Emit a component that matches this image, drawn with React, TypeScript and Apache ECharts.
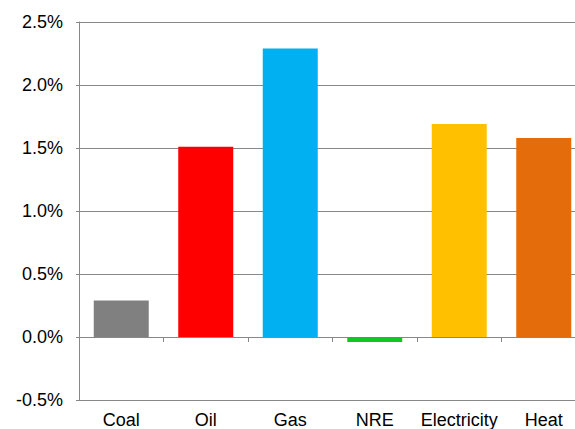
import React, { useEffect, useRef } from "react";
import * as echarts from "echarts";

const categories = ["Coal", "Oil", "Gas", "NRE", "Electricity", "Heat"];
const values = [0.29, 1.51, 2.29, -0.04, 1.69, 1.58];
const barColors = ["#808080", "#FF0000", "#00B0F0", "#12C81F", "#FFC000", "#E46C0A"];
const yTicks = { min: -0.5, max: 2.5, interval: 0.5 };

export default function App() {
  const ref = useRef<HTMLDivElement>(null);
  useEffect(() => {
    if (!ref.current) return;
    const chart = echarts.init(ref.current, null, { renderer: "svg" });
    const font = "'Liberation Sans', Arial, sans-serif";
    chart.setOption({
      animation: false,
      grid: { left: 79, right: 14, top: 22, bottom: 29, containLabel: false },
      xAxis: [
        {
          type: "category",
          data: categories,
          axisLine: { show: true, onZero: true, lineStyle: { color: "#888888", width: 1 } },
          axisTick: { show: true, length: 5, lineStyle: { color: "#888888" } },
          axisLabel: { show: false },
          splitLine: { show: false },
        },
        {
          type: "category",
          data: categories,
          position: "bottom",
          axisLine: { show: false, onZero: false },
          axisTick: { show: false },
          axisLabel: { show: true, color: "#000", fontSize: 18, fontFamily: font, margin: 11, interval: 0 },
          splitLine: { show: false },
        },
      ],
      yAxis: {
        type: "value",
        min: yTicks.min,
        max: yTicks.max,
        interval: yTicks.interval,
        axisLine: { show: true, lineStyle: { color: "#888888", width: 1 } },
        axisTick: { show: true, length: 3, lineStyle: { color: "#888888" } },
        axisLabel: {
          color: "#000",
          fontSize: 18,
          fontFamily: font,
          margin: 16,
          formatter: (v: number) => v.toFixed(1) + "%",
        },
        splitLine: { show: true, lineStyle: { color: "#888888", width: 1 } },
      },
      series: [
        {
          type: "bar",
          xAxisIndex: 0,
          barWidth: 55,
          data: values.map((v, i) => ({ value: v, itemStyle: { color: barColors[i] } })),
        },
      ],
    });
    return () => chart.dispose();
  }, []);
  return (
    <div style={{ position: "fixed", left: 0, top: 0, width: 575, height: 429, overflow: "hidden", background: "#fff" }}>
      <div ref={ref} style={{ width: 600, height: 429 }} />
    </div>
  );
}
